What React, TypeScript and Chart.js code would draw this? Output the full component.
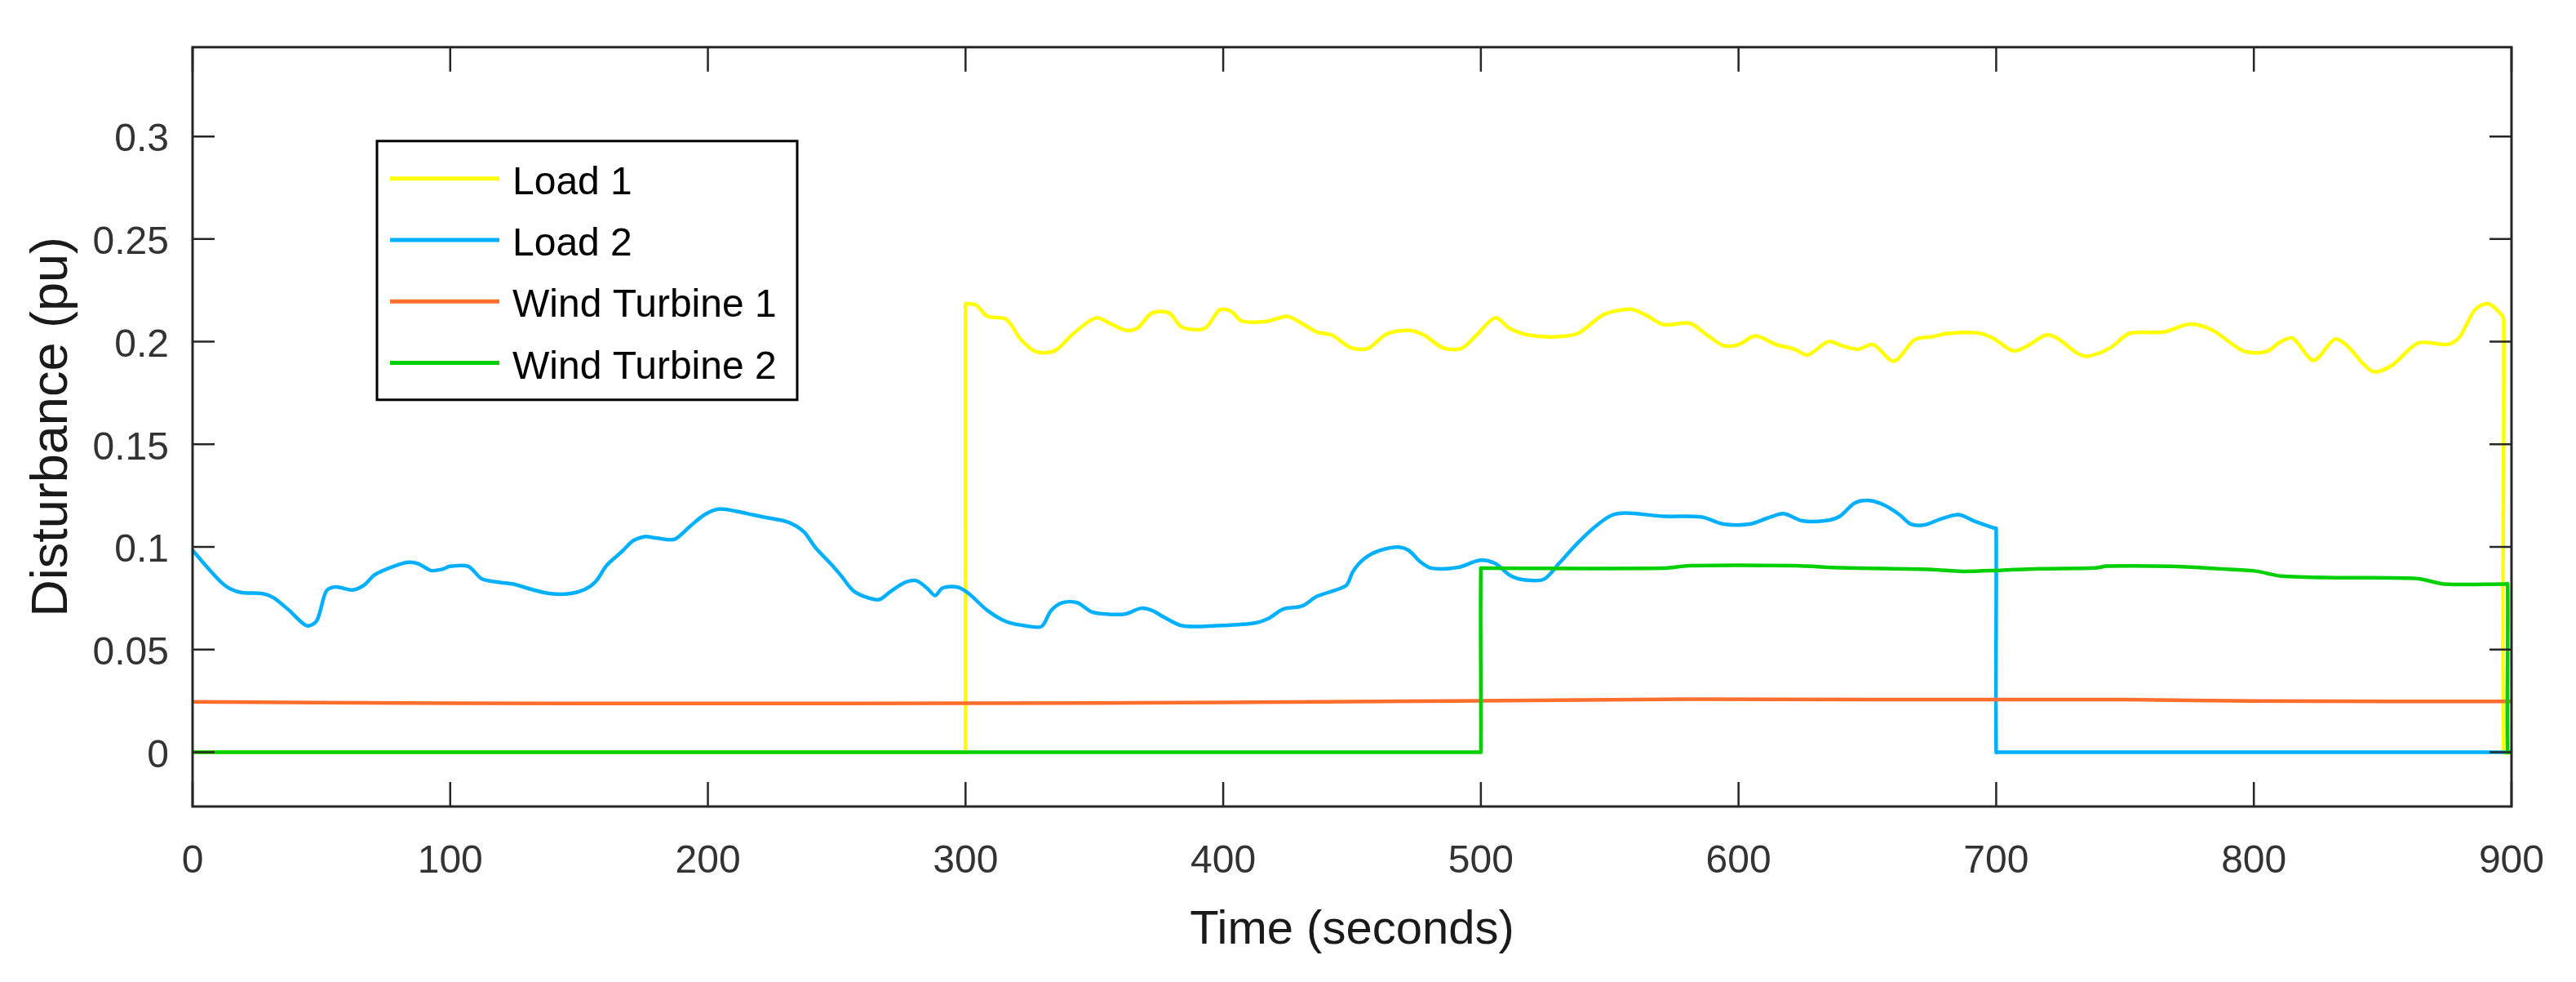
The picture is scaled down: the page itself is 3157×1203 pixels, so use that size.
import React, { useEffect, useRef } from "react";
import { Chart, registerables } from "chart.js";

Chart.register(...registerables);

// ---------- data ----------
const seriesNames = ["Load 1", "Load 2", "Wind Turbine 1", "Wind Turbine 2"];
const seriesColors = ["#FFFF00", "#00B0FF", "#FF6E2C", "#00D000"];

const xTicks = [0, 100, 200, 300, 400, 500, 600, 700, 800, 900];
const yTicks = [0, 0.05, 0.1, 0.15, 0.2, 0.25, 0.3];
const yTickLabels = ["0", "0.05", "0.1", "0.15", "0.2", "0.25", "0.3"];

const load1Time = [
  0, 299.5, 300, 300, 300.4, 304.1, 308.5, 315.8, 321.6, 327.4, 334.7, 341.9, 350.6, 356.5, 362.3,
  366.6, 372.4, 379, 384, 392.8, 398.6, 403, 407.3, 417.5, 424.7, 429.1, 436.4, 442.2, 449.5,
  456.2, 463.4, 472.2, 478, 485.3, 492.5, 498.3, 505.6, 511.4, 518.7, 528.8, 537.6, 547.7,
  557.9, 563.7, 571, 581.1, 587, 594.2, 600, 606.6, 614.6, 621.8, 626.9, 634.9, 640.7, 646.5,
  652.3, 660.3, 668.3, 675.3, 681, 692.8, 698.7, 706.8, 711.9, 719.3, 723.7, 731.1, 735.5,
  744.3, 751.7, 765, 775.3, 784.1, 795.9, 804.7, 810.6, 815.1, 823.2, 831.3, 835.7, 846,
  853.4, 863.7, 875.5, 879.9, 885.8, 890.9, 896.1, 897, 897, 900,
];
const load1Values = [
  0, 0, 0, 0.2185, 0.2185, 0.2178, 0.2124, 0.2109, 0.2009, 0.1951, 0.1956, 0.204, 0.2116, 0.2086,
  0.2055, 0.2065, 0.214, 0.214, 0.2071, 0.2065, 0.2155, 0.2148, 0.21, 0.21, 0.2124, 0.21,
  0.2047, 0.2032, 0.1971, 0.1967, 0.2037, 0.2055, 0.2032, 0.197, 0.1967, 0.2032, 0.2116,
  0.2063, 0.2032, 0.2024, 0.204, 0.2132, 0.2158, 0.2132, 0.2083, 0.209, 0.204, 0.1981,
  0.1986, 0.2028, 0.1986, 0.1963, 0.1935, 0.2001, 0.1978, 0.1963, 0.1986, 0.1905, 0.2009,
  0.2024, 0.204, 0.2043, 0.2017, 0.1955, 0.1978, 0.2032, 0.2017, 0.1947, 0.1929, 0.197,
  0.204, 0.2047, 0.2086, 0.2055, 0.1955, 0.1951, 0.2001, 0.2017, 0.1909, 0.2012, 0.1986,
  0.1856, 0.1883, 0.1993, 0.1987, 0.2024, 0.2155, 0.2185, 0.2132, 0.21, 0, 0,
];

const load2Time = [
  0, 5.4, 12.6, 18.4, 27.2, 31.5, 37.3, 44.3, 48.2, 51.9, 55.5, 62, 66.4, 70.8, 78, 83.8, 87.6,
  92.5, 96.9, 99.8, 107, 112.2, 118.7, 124.5, 131.8, 139, 146.3, 152.1, 156.5, 160.8, 166.6,
  171, 175.4, 179.7, 187, 192.8, 198.6, 204.4, 211.7, 217.5, 224, 231.5, 237.3, 241.7, 247.5,
  251.8, 256.2, 260.6, 266.4, 270.7, 276.5, 280.9, 285.3, 288.2, 291.1, 296.9, 301.2, 308.5,
  315.8, 324.5, 329.6, 333.2, 337.6, 343.4, 349.2, 356.5, 362.3, 368.1, 372.4, 376.8, 384,
  397.2, 411.7, 417.5, 423.3, 430.6, 436.4, 445.1, 448, 450.4, 454.7, 460.5, 467.8, 472.2,
  476.5, 480.9, 491, 499.8, 505.6, 511.4, 517.2, 524.5, 530.3, 537.6, 544.8, 550.6, 556.4,
  571, 585.5, 594.2, 604.4, 611.6, 617.5, 624.7, 633.4, 639.3, 645.1, 650.9, 656.7, 662.5,
  666.9, 672.2, 678, 685.4, 691.3, 699.4, 700, 700, 701, 900,
];
const load2Values = [
  0.0984, 0.0905, 0.0812, 0.0779, 0.0772, 0.0752, 0.0693, 0.0616, 0.064, 0.0785, 0.0805,
  0.079, 0.0812, 0.0865, 0.0905, 0.0925, 0.0918, 0.0885, 0.0891, 0.0905, 0.0905, 0.0845,
  0.0828, 0.0819, 0.0792, 0.0772, 0.0772, 0.0792, 0.0832, 0.0911, 0.0977, 0.103, 0.105,
  0.1044, 0.1037, 0.1097, 0.1156, 0.1185, 0.1172, 0.1156, 0.114, 0.1119, 0.1073, 0.0997,
  0.092, 0.0858, 0.0789, 0.0759, 0.0743, 0.0781, 0.0827, 0.0835, 0.0796, 0.0763, 0.08,
  0.0804, 0.0773, 0.069, 0.0636, 0.0613, 0.0613, 0.069, 0.0728, 0.0728, 0.0682, 0.0671,
  0.0674, 0.0701, 0.069, 0.0659, 0.0616, 0.0616, 0.0628, 0.0651, 0.0697, 0.0712, 0.0759,
  0.0796, 0.0815, 0.0881, 0.0942, 0.0981, 0.0999, 0.0981, 0.0927, 0.0896, 0.09, 0.0935,
  0.0919, 0.0861, 0.0839, 0.0843, 0.0919, 0.1019, 0.1103, 0.1153, 0.1165, 0.1149, 0.1146,
  0.1111, 0.1111, 0.1142, 0.1162, 0.1127, 0.1127, 0.1149, 0.1214, 0.1226, 0.1203, 0.1157,
  0.1111, 0.1107, 0.1134, 0.1157, 0.1127, 0.1091, 0.109, 0, 0, 0,
];

const wind1Time = [0, 100, 200, 300, 400, 500, 580, 650, 750, 800, 900];
const wind1Values = [0.0245, 0.0238, 0.0237, 0.0238, 0.0242, 0.025, 0.0258, 0.0256, 0.0256, 0.0249, 0.0247];

const wind2Time = [
  0, 499.5, 500, 500, 501, 571, 581, 622, 640, 675, 687, 701.6, 716.4, 738.4, 742.9, 767.9,
  787, 800.3, 810.6, 834.2, 863.7, 874, 897.5, 898.5, 898.5, 900,
];
const wind2Values = [
  0, 0, 0, 0.0896, 0.0896, 0.0896, 0.0908, 0.0908, 0.0898, 0.089, 0.0881, 0.0886, 0.0893,
  0.0897, 0.0906, 0.0905, 0.0893, 0.0883, 0.0858, 0.085, 0.0845, 0.0819, 0.0819, 0.0819, 0, 0,
];

const xTitle = "Time (seconds)";
const yTitle = "Disturbance (pu)";

// ---------- style ----------
const FONT = '"Liberation Sans", Arial, Helvetica, sans-serif';
const AXIS_COLOR = "#262626";
const TICK_TEXT = "#333333";

const toPoints = (t: number[], v: number[]) => t.map((x, i) => ({ x, y: v[i] }));

const framePlugin = {
  id: "matlabFrame",
  afterDatasetsDraw(chart: any) {
    const { ctx, chartArea: a, scales } = chart;
    const xs = scales.x;
    const ys = scales.y;
    ctx.save();
    ctx.strokeStyle = AXIS_COLOR;
    ctx.lineWidth = 2.5;
    ctx.beginPath();
    for (const v of xTicks) {
      const p = xs.getPixelForValue(v);
      ctx.moveTo(p, a.bottom);
      ctx.lineTo(p, a.bottom - 30);
      ctx.moveTo(p, a.top);
      ctx.lineTo(p, a.top + 30);
    }
    for (const v of yTicks) {
      const p = ys.getPixelForValue(v);
      ctx.moveTo(a.left, p);
      ctx.lineTo(a.left + 27, p);
      ctx.moveTo(a.right, p);
      ctx.lineTo(a.right - 27, p);
    }
    ctx.stroke();
    ctx.lineWidth = 3;
    ctx.strokeRect(a.left, a.top, a.right - a.left, a.bottom - a.top);
    ctx.restore();
  },
};

const legendPlugin = {
  id: "boxLegend",
  afterDraw(chart: any) {
    const { ctx, chartArea: a } = chart;
    const left = a.left + 226;
    const top = a.top + 115;
    const w = 515;
    const h = 317;
    ctx.save();
    ctx.fillStyle = "#ffffff";
    ctx.fillRect(left, top, w, h);
    ctx.strokeStyle = "#000000";
    ctx.lineWidth = 3;
    ctx.strokeRect(left, top, w, h);
    chart.data.datasets.forEach((ds: any, i: number) => {
      const y = top + 46 + i * 75.2;
      ctx.strokeStyle = ds.borderColor;
      ctx.lineWidth = 5;
      ctx.beginPath();
      ctx.moveTo(left + 16, y);
      ctx.lineTo(left + 150, y);
      ctx.stroke();
      ctx.fillStyle = "#000000";
      ctx.font = `48px ${FONT}`;
      ctx.textAlign = "left";
      ctx.textBaseline = "middle";
      ctx.fillText(ds.label, left + 166, y + 6);
    });
    ctx.restore();
  },
};

export default function App() {
  const canvasRef = useRef<HTMLCanvasElement | null>(null);

  useEffect(() => {
    const canvas = canvasRef.current;
    if (!canvas) return;
    const seriesData = [
      toPoints(load1Time, load1Values),
      toPoints(load2Time, load2Values),
      toPoints(wind1Time, wind1Values),
      toPoints(wind2Time, wind2Values),
    ];
    const chart = new Chart(canvas, {
      type: "line",
      data: {
        datasets: seriesNames.map((name, i) => ({
          label: name,
          data: seriesData[i],
          borderColor: seriesColors[i],
          backgroundColor: seriesColors[i],
          borderWidth: 4.5,
          pointRadius: 0,
          tension: 0.3,
          fill: false,
          borderJoinStyle: "round" as const,
          borderCapStyle: "butt" as const,
          order: seriesNames.length - i,
        })),
      },
      options: {
        animation: false,
        responsive: false,
        events: [],
        layout: { padding: { left: 0, top: 46, right: 78, bottom: 0 } },
        plugins: {
          legend: { display: false },
          tooltip: { enabled: false },
        },
        scales: {
          x: {
            type: "linear",
            min: 0,
            max: 900,
            grid: { display: false, drawTicks: false },
            border: { display: false },
            afterBuildTicks: (s: any) => {
              s.ticks = xTicks.map((v) => ({ value: v }));
            },
            afterFit: (s: any) => {
              s.height = 215;
            },
            ticks: {
              color: TICK_TEXT,
              font: { family: FONT, size: 48 },
              padding: 39,
              maxRotation: 0,
              autoSkip: false,
              callback: (v: any) => String(v),
            },
            title: {
              display: true,
              text: xTitle,
              color: "#1a1a1a",
              font: { family: FONT, size: 58 },
              padding: { top: 0, bottom: 28 },
            },
          },
          y: {
            type: "linear",
            min: -0.0265,
            max: 0.3435,
            grid: { display: false, drawTicks: false },
            border: { display: false },
            afterBuildTicks: (s: any) => {
              s.ticks = yTicks.map((v) => ({ value: v }));
            },
            afterFit: (s: any) => {
              s.width = 236;
            },
            ticks: {
              color: TICK_TEXT,
              font: { family: FONT, size: 48 },
              padding: 29,
              labelOffset: 5,
              autoSkip: false,
              callback: (_v: any, i: number) => yTickLabels[i],
            },
            title: {
              display: true,
              text: yTitle,
              color: "#1a1a1a",
              font: { family: FONT, size: 63 },
              padding: { top: 27, bottom: 0 },
            },
          },
        },
      },
      plugins: [framePlugin, legendPlugin],
    });
    return () => chart.destroy();
  }, []);

  return (
    <div
      style={{
        position: "fixed",
        left: 0,
        top: 0,
        width: 3157,
        height: 1203,
        background: "#ffffff",
      }}
    >
      <canvas
        ref={canvasRef}
        width={3157}
        height={1203}
        style={{ width: 3157, height: 1203, display: "block" }}
      />
    </div>
  );
}
